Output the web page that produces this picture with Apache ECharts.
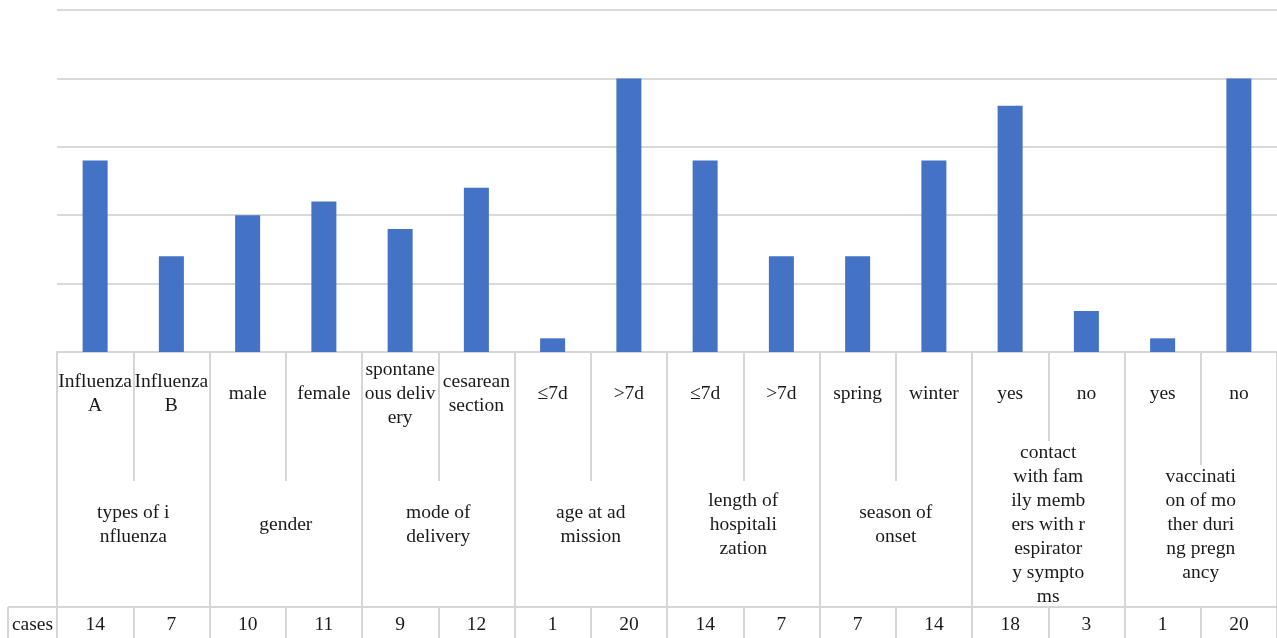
<!DOCTYPE html>
<html>
<head>
<meta charset="utf-8">
<script src="https://cdn.jsdelivr.net/npm/echarts@6/dist/echarts.min.js"></script>
<style>
  html, body { margin: 0; padding: 0; background: #fff; }
  #chart { width: 1277px; height: 638px; }
</style>
</head>
<body>
<div id="chart"></div>
<script>
// Sub-categories (with the line breaks used in the table cells)
const subLabels = [
  'Influenza\nA', 'Influenza\nB',
  'male', 'female',
  'spontane\nous deliv\nery', 'cesarean\nsection',
  '≤7d', '>7d',
  '≤7d', '>7d',
  'spring', 'winter',
  'yes', 'no',
  'yes', 'no'
];

// Group labels, each covering two sub-categories
const groupLabels = [
  'types of i\nnfluenza',
  'gender',
  'mode of\ndelivery',
  'age at ad\nmission',
  'length of\nhospitali\nzation',
  'season of\nonset',
  'contact\nwith fam\nily memb\ners with r\nespirator\ny sympto\nms',
  'vaccinati\non of mo\nther duri\nng pregn\nancy'
];

// Number of cases per sub-category
const seriesName = 'cases';
const cases = [14, 7, 10, 11, 9, 12, 1, 20, 14, 7, 7, 14, 18, 3, 1, 20];

// Value axis range
const yMin = 0, yMax = 25, yStep = 5;

const FONT = "'Liberation Serif', 'Times New Roman', serif";
const FONT_SIZE = 19.5;
const TEXT = '#1a1a1a';
const RULE = '#d6d6d6';

const chart = echarts.init(document.getElementById('chart'));

const gridLeft = 57, gridTop = 10, gridBottom = 286;
const axisY = 638 - gridBottom;          // y of category axis line
const subDepth = 129;                    // sub-category cell divider length
const groupDepth = 255;                  // group cell divider length

chart.setOption({
  animation: false,
  grid: { left: gridLeft, right: 0, top: gridTop, bottom: gridBottom, containLabel: false },
  yAxis: {
    type: 'value', min: yMin, max: yMax, interval: yStep,
    axisLabel: { show: false },
    axisLine: { show: false },
    axisTick: { show: false },
    splitLine: { lineStyle: { color: '#d9d9d9', width: 2 } }
  },
  xAxis: [
    {
      type: 'category', data: subLabels, position: 'bottom',
      axisLine: { show: true, lineStyle: { color: RULE, width: 2 } },
      axisTick: { show: true, length: subDepth, interval: 0, lineStyle: { color: RULE, width: 2 } },
      axisLabel: {
        interval: 0, margin: 42, verticalAlign: 'middle', align: 'center',
        fontFamily: FONT, fontSize: FONT_SIZE, lineHeight: 24, color: TEXT
      }
    },
    {
      type: 'category', data: groupLabels, position: 'bottom',
      axisLine: { show: false },
      axisTick: { show: true, length: groupDepth, interval: 0, lineStyle: { color: RULE, width: 2 } },
      axisLabel: {
        interval: 0, margin: 173, verticalAlign: 'middle', align: 'center',
        fontFamily: FONT, fontSize: FONT_SIZE, lineHeight: 24, color: TEXT,
        backgroundColor: '#fff', padding: [0, 2, 0, 2]
      },
      z: 5
    },
    {
      type: 'category', data: subLabels, position: 'bottom', offset: groupDepth,
      axisLine: { show: true, lineStyle: { color: RULE, width: 2 } },
      axisTick: { show: true, length: 31, interval: 0, lineStyle: { color: RULE, width: 2 } },
      axisLabel: {
        interval: 0, margin: 18, verticalAlign: 'middle', align: 'center',
        fontFamily: FONT, fontSize: FONT_SIZE, color: TEXT,
        formatter: (v, i) => String(cases[i])
      },
      z: 6
    }
  ],
  series: [{
    name: seriesName,
    type: 'bar',
    xAxisIndex: 0,
    data: cases,
    barWidth: 25,
    itemStyle: { color: '#4472C4' }
  }],
  graphic: [
    // row header cell of the data table
    { type: 'line', shape: { x1: 8, y1: axisY + groupDepth, x2: gridLeft, y2: axisY + groupDepth },
      style: { stroke: RULE, lineWidth: 2 } },
    { type: 'line', shape: { x1: 8, y1: axisY + groupDepth, x2: 8, y2: 638 },
      style: { stroke: RULE, lineWidth: 2 } },
    { type: 'text', x: (8 + gridLeft) / 2, y: axisY + groupDepth + 18,
      style: { text: seriesName, fontFamily: FONT, fontSize: FONT_SIZE, fill: TEXT,
               textAlign: 'center', textVerticalAlign: 'middle' } }
  ]
});
</script>
</body>
</html>
